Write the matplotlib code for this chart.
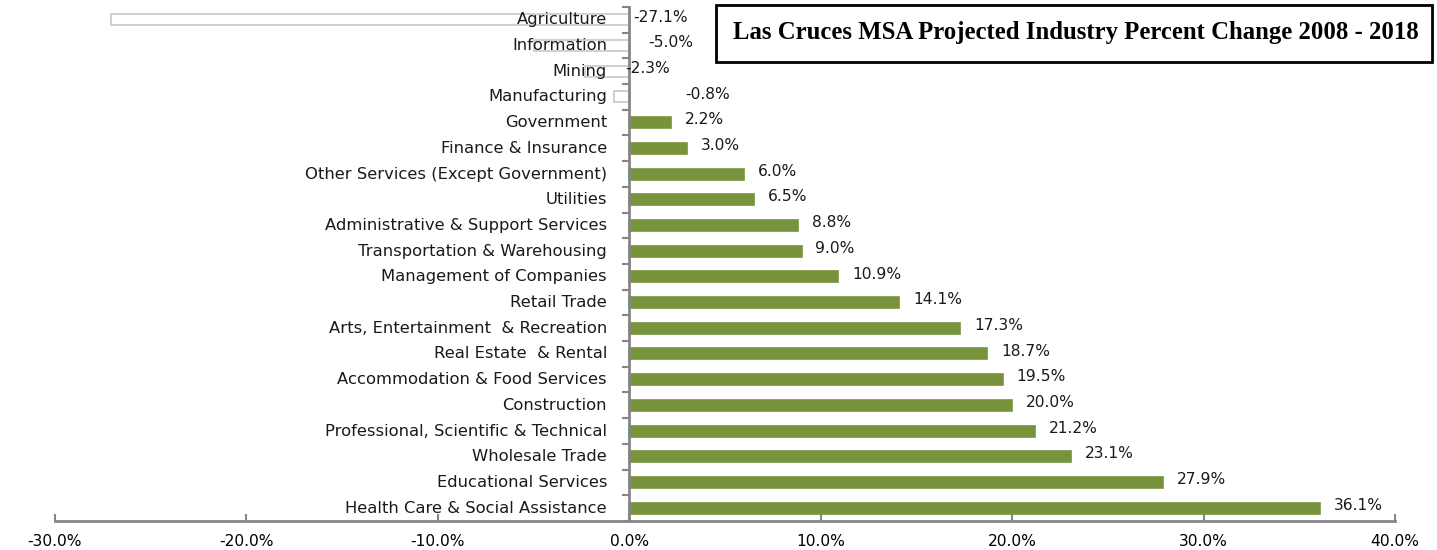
import matplotlib.pyplot as plt
from matplotlib.patches import Rectangle
from matplotlib.ticker import FuncFormatter, FixedLocator

# data, top to bottom as in the chart
industries = [
    "Agriculture", "Information", "Mining", "Manufacturing", "Government",
    "Finance & Insurance", "Other Services (Except Government)", "Utilities",
    "Administrative & Support Services", "Transportation & Warehousing",
    "Management of Companies", "Retail Trade", "Arts, Entertainment  & Recreation",
    "Real Estate  & Rental", "Accommodation & Food Services", "Construction",
    "Professional, Scientific & Technical", "Wholesale Trade",
    "Educational Services", "Health Care & Social Assistance",
]
pct_change = [-27.1, -5.0, -2.3, -0.8, 2.2, 3.0, 6.0, 6.5, 8.8, 9.0,
              10.9, 14.1, 17.3, 18.7, 19.5, 20.0, 21.2, 23.1, 27.9, 36.1]
x_ticks = [-30, -20, -10, 0, 10, 20, 30, 40]

# where excel dumped the labels of the negative bars (points right of the axis)
neg_label_dx = [3, 14, -3, 40]

green = "#77933C"
axis_gray = "#868686"

fig = plt.figure(figsize=(14.37, 5.5), dpi=100)
ax = fig.add_axes([55 / 1437, 29 / 550, 1340 / 1437, 514 / 550])

n = len(industries)
ypos = list(range(n))
colors = [green if v >= 0 else "white" for v in pct_change]
edges = [green if v >= 0 else "#C8C8C8" for v in pct_change]
ax.barh(ypos, pct_change, height=0.43, color=colors, edgecolor=edges, linewidth=1.2, zorder=2)

ax.set_xlim(-30, 40)
ax.set_ylim(n - 0.5, -0.5)

# category labels sit just left of the zero line
for i, name in enumerate(industries):
    ax.annotate(name, (0, i), xytext=(-16, 0), textcoords="offset points",
                ha="right", va="center", fontsize=11.8, color="#1a1a1a",
                family="DejaVu Sans", zorder=3)

# value labels
k = 0
for i, v in enumerate(pct_change):
    if v >= 0:
        ax.annotate(f"{v:.1f}%", (v, i), xytext=(10, 2), textcoords="offset points",
                    ha="left", va="center", fontsize=11.2, color="#1a1a1a")
    else:
        ax.annotate(f"{v:.1f}%", (0, i), xytext=(neg_label_dx[k], 2), textcoords="offset points",
                    ha="left", va="center", fontsize=11.2, color="#1a1a1a")
        k += 1

# axes styling
for s in ["top", "right"]:
    ax.spines[s].set_visible(False)
ax.spines["left"].set_position(("data", 0))
ax.spines["left"].set_color(axis_gray)
ax.spines["left"].set_linewidth(2)
ax.spines["bottom"].set_color(axis_gray)
ax.spines["bottom"].set_linewidth(2)

ax.xaxis.set_major_locator(FixedLocator(x_ticks))
ax.xaxis.set_major_formatter(FuncFormatter(lambda x, p: f"{x:.1f}%"))
ax.tick_params(axis="x", direction="in", length=5, width=1.5, color=axis_gray,
               labelsize=11.2, pad=9)
ax.yaxis.set_major_locator(FixedLocator([i + 0.5 for i in range(-1, n)]))
ax.set_yticklabels([])
ax.tick_params(axis="y", direction="out", length=5, width=1.5, color=axis_gray)

# title box
fig.patches.append(Rectangle((716 / 1437, 1 - 62 / 550), 716 / 1437, 57 / 550,
                             transform=fig.transFigure, facecolor="white",
                             edgecolor="black", linewidth=2, zorder=5))
fig.text(1076 / 1437, 1 - 33 / 550, "Las Cruces MSA Projected Industry Percent Change 2008 - 2018",
         ha="center", va="center", fontsize=17.8, fontweight="bold", family="Liberation Serif",
         zorder=6)

fig.savefig("out.png", dpi=100)
